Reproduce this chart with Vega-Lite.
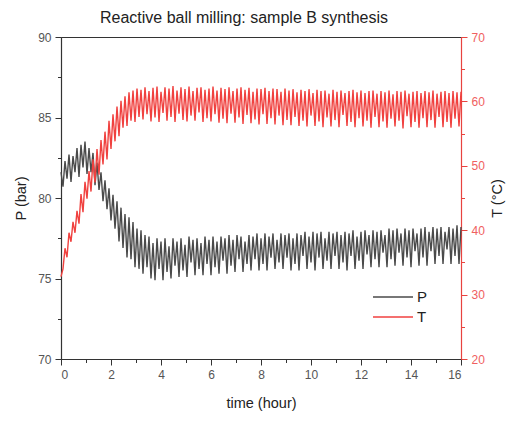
{
"$schema": "https://vega.github.io/schema/vega-lite/v6.json",
"width": 400, "height": 322,
"autosize": {"type": "none"},
"padding": {"left": 61, "top": 37, "right": 48, "bottom": 62},
"title": {"text": "Reactive ball milling: sample B synthesis", "fontSize": 16, "fontWeight": "normal", "color": "#222", "font": "Liberation Sans", "offset": 5, "dx": -17},
"config": {"view": {"stroke": "#333", "strokeWidth": 1}, "font": "Liberation Sans",
  "axis": {"grid": false, "labelFont": "Liberation Sans", "titleFont": "Liberation Sans", "labelFontSize": 12, "titleFontSize": 14.5, "titleFontWeight": "normal", "titleColor": "#222", "labelColor": "#555", "domainColor": "#333", "tickColor": "#333", "domainWidth": 1.2, "tickWidth": 1}},
"data": {"values": [
{"t":0,"P":81.6,"T":32.8},{"t":0.08,"P":80.7,"T":34.0},{"t":0.16,"P":82.3,"T":37.2},{"t":0.24,"P":81.2,"T":35.8},{"t":0.32,"P":82.7,"T":39.6},{"t":0.4,"P":81.0,"T":38.2},{"t":0.48,"P":82.6,"T":41.3},{"t":0.56,"P":81.6,"T":39.6},{"t":0.64,"P":83.1,"T":43.0},{"t":0.72,"P":81.3,"T":41.0},
{"t":0.8,"P":83.3,"T":45.6},{"t":0.88,"P":81.9,"T":42.8},{"t":0.96,"P":83.5,"T":47.5},{"t":1.04,"P":81.5,"T":44.9},{"t":1.12,"P":83.1,"T":49.2},{"t":1.2,"P":81.6,"T":46.0},{"t":1.28,"P":82.8,"T":51.0},{"t":1.36,"P":80.8,"T":47.4},{"t":1.44,"P":82.2,"T":52.6},{"t":1.52,"P":80.5,"T":48.6},
{"t":1.6,"P":81.6,"T":54.0},{"t":1.68,"P":79.8,"T":50.2},{"t":1.76,"P":81.1,"T":55.3},{"t":1.84,"P":79.3,"T":51.0},{"t":1.92,"P":80.6,"T":57.0},{"t":2,"P":78.6,"T":52.6},{"t":2.08,"P":80.2,"T":58.0},{"t":2.16,"P":78.1,"T":53.8},{"t":2.24,"P":79.8,"T":59.2},{"t":2.32,"P":77.3,"T":54.6},
{"t":2.4,"P":79.4,"T":60.1},{"t":2.48,"P":76.9,"T":55.9},{"t":2.56,"P":79.0,"T":60.8},{"t":2.64,"P":76.3,"T":56.2},{"t":2.72,"P":78.8,"T":61.4},{"t":2.8,"P":76.2,"T":57.0},{"t":2.88,"P":78.5,"T":61.7},{"t":2.96,"P":75.7,"T":56.8},{"t":3.04,"P":78.1,"T":62.0},{"t":3.12,"P":75.6,"T":57.6},
{"t":3.2,"P":78.0,"T":61.8},{"t":3.28,"P":75.3,"T":57.2},{"t":3.36,"P":77.7,"T":62.2},{"t":3.44,"P":75.7,"T":58.0},{"t":3.52,"P":77.6,"T":61.6},{"t":3.6,"P":75.0,"T":56.9},{"t":3.68,"P":77.2,"T":62.1},{"t":3.76,"P":74.9,"T":57.5},{"t":3.84,"P":77.5,"T":62.3},{"t":3.92,"P":75.6,"T":56.8},
{"t":4,"P":77.3,"T":61.5},{"t":4.08,"P":74.9,"T":58.2},{"t":4.16,"P":77.5,"T":62.2},{"t":4.24,"P":75.4,"T":57.0},{"t":4.32,"P":77.0,"T":62.0},{"t":4.4,"P":75.0,"T":57.6},{"t":4.48,"P":77.5,"T":62.4},{"t":4.56,"P":75.8,"T":56.8},{"t":4.64,"P":77.3,"T":61.7},{"t":4.72,"P":75.1,"T":58.1},
{"t":4.8,"P":77.5,"T":62.2},{"t":4.88,"P":75.5,"T":57.1},{"t":4.96,"P":77.1,"T":61.9},{"t":5.04,"P":75.1,"T":56.9},{"t":5.12,"P":77.6,"T":62.3},{"t":5.2,"P":76.0,"T":57.8},{"t":5.28,"P":77.4,"T":61.6},{"t":5.36,"P":75.2,"T":57.0},{"t":5.44,"P":77.5,"T":62.1},{"t":5.52,"P":75.6,"T":58.3},
{"t":5.6,"P":77.2,"T":62.2},{"t":5.68,"P":75.2,"T":56.8},{"t":5.76,"P":77.6,"T":61.8},{"t":5.84,"P":75.9,"T":57.4},{"t":5.92,"P":77.4,"T":62.0},{"t":6,"P":75.2,"T":56.9},{"t":6.08,"P":77.6,"T":62.3},{"t":6.16,"P":75.7,"T":58.0},{"t":6.24,"P":77.3,"T":61.7},{"t":6.32,"P":75.3,"T":56.7},
{"t":6.4,"P":77.6,"T":62.1},{"t":6.48,"P":76.1,"T":57.3},{"t":6.56,"P":77.5,"T":61.9},{"t":6.64,"P":75.3,"T":56.6},{"t":6.72,"P":77.7,"T":62.2},{"t":6.8,"P":75.8,"T":58.1},{"t":6.88,"P":77.4,"T":61.6},{"t":6.96,"P":75.4,"T":56.7},{"t":7.04,"P":77.7,"T":62.0},{"t":7.12,"P":76.2,"T":57.5},
{"t":7.2,"P":77.6,"T":62.2},{"t":7.28,"P":75.4,"T":56.5},{"t":7.36,"P":77.3,"T":61.8},{"t":7.44,"P":75.9,"T":57.9},{"t":7.52,"P":77.7,"T":62.1},{"t":7.6,"P":75.5,"T":56.6},{"t":7.68,"P":77.6,"T":61.5},{"t":7.76,"P":76.2,"T":57.2},{"t":7.84,"P":77.8,"T":62.0},{"t":7.92,"P":75.5,"T":56.4},
{"t":8,"P":77.5,"T":61.9},{"t":8.08,"P":75.9,"T":58.0},{"t":8.16,"P":77.8,"T":62.1},{"t":8.24,"P":75.5,"T":56.5},{"t":8.32,"P":77.6,"T":61.6},{"t":8.4,"P":76.3,"T":57.4},{"t":8.48,"P":77.8,"T":62.0},{"t":8.56,"P":75.6,"T":56.4},{"t":8.64,"P":77.4,"T":61.9},{"t":8.72,"P":76.0,"T":57.8},
{"t":8.8,"P":77.8,"T":61.5},{"t":8.88,"P":75.6,"T":56.3},{"t":8.96,"P":77.7,"T":62.0},{"t":9.04,"P":76.3,"T":57.1},{"t":9.12,"P":77.8,"T":61.7},{"t":9.2,"P":75.5,"T":56.3},{"t":9.28,"P":77.5,"T":61.9},{"t":9.36,"P":75.9,"T":57.6},{"t":9.44,"P":77.8,"T":61.4},{"t":9.52,"P":75.5,"T":56.2},
{"t":9.6,"P":77.7,"T":61.8},{"t":9.68,"P":76.4,"T":57.0},{"t":9.76,"P":77.9,"T":61.6},{"t":9.84,"P":75.6,"T":56.1},{"t":9.92,"P":77.6,"T":61.9},{"t":10,"P":76.0,"T":57.8},{"t":10.08,"P":77.9,"T":61.3},{"t":10.16,"P":75.5,"T":56.2},{"t":10.24,"P":77.8,"T":61.8},{"t":10.32,"P":76.3,"T":56.9},
{"t":10.4,"P":77.9,"T":61.6},{"t":10.48,"P":75.6,"T":56.0},{"t":10.56,"P":77.5,"T":61.7},{"t":10.64,"P":76.1,"T":57.5},{"t":10.72,"P":77.9,"T":61.2},{"t":10.8,"P":75.6,"T":56.1},{"t":10.88,"P":77.8,"T":61.8},{"t":10.96,"P":76.4,"T":57.1},{"t":11.04,"P":77.9,"T":61.5},{"t":11.12,"P":75.6,"T":56.0},
{"t":11.2,"P":77.7,"T":61.7},{"t":11.28,"P":76.0,"T":57.9},{"t":11.36,"P":77.9,"T":61.3},{"t":11.44,"P":75.5,"T":56.2},{"t":11.52,"P":77.8,"T":61.6},{"t":11.6,"P":76.4,"T":56.8},{"t":11.68,"P":78.0,"T":61.8},{"t":11.76,"P":75.6,"T":56.0},{"t":11.84,"P":77.6,"T":61.4},{"t":11.92,"P":76.1,"T":57.4},
{"t":12,"P":77.9,"T":61.7},{"t":12.08,"P":75.6,"T":56.1},{"t":12.16,"P":78.0,"T":61.3},{"t":12.24,"P":76.5,"T":57.0},{"t":12.32,"P":77.7,"T":61.6},{"t":12.4,"P":75.7,"T":55.9},{"t":12.48,"P":78.0,"T":61.7},{"t":12.56,"P":76.2,"T":57.6},{"t":12.64,"P":77.9,"T":61.2},{"t":12.72,"P":75.7,"T":56.0},
{"t":12.8,"P":78.0,"T":61.6},{"t":12.88,"P":76.6,"T":56.9},{"t":12.96,"P":77.7,"T":61.4},{"t":13.04,"P":75.7,"T":55.9},{"t":13.12,"P":78.1,"T":61.7},{"t":13.2,"P":76.2,"T":57.3},{"t":13.28,"P":78.0,"T":61.1},{"t":13.36,"P":75.8,"T":56.1},{"t":13.44,"P":78.1,"T":61.6},{"t":13.52,"P":76.6,"T":57.0},
{"t":13.6,"P":77.8,"T":61.5},{"t":13.68,"P":75.8,"T":55.8},{"t":13.76,"P":78.1,"T":61.7},{"t":13.84,"P":76.3,"T":57.7},{"t":13.92,"P":78.0,"T":61.2},{"t":14,"P":75.7,"T":56.0},{"t":14.08,"P":78.1,"T":61.5},{"t":14.16,"P":76.7,"T":56.8},{"t":14.24,"P":77.8,"T":61.6},{"t":14.32,"P":75.8,"T":55.9},
{"t":14.4,"P":78.1,"T":61.3},{"t":14.48,"P":76.3,"T":57.4},{"t":14.56,"P":78.2,"T":61.6},{"t":14.64,"P":75.8,"T":56.0},{"t":14.72,"P":77.9,"T":61.4},{"t":14.8,"P":76.7,"T":57.1},{"t":14.88,"P":78.2,"T":61.7},{"t":14.96,"P":75.9,"T":55.9},{"t":15.04,"P":78.1,"T":61.2},{"t":15.12,"P":76.4,"T":57.6},
{"t":15.2,"P":78.2,"T":61.5},{"t":15.28,"P":75.9,"T":56.0},{"t":15.36,"P":77.9,"T":61.6},{"t":15.44,"P":76.8,"T":56.8},{"t":15.52,"P":78.2,"T":61.3},{"t":15.6,"P":75.9,"T":55.9},{"t":15.68,"P":78.1,"T":61.6},{"t":15.76,"P":76.4,"T":57.3},{"t":15.84,"P":78.3,"T":61.4},{"t":15.92,"P":75.9,"T":56.1},
{"t":16,"P":78.2,"T":61.5}
]},
"layer": [
 {"mark": {"type": "line", "strokeWidth": 1.4},
  "encoding": {
   "x": {"field": "t", "type": "quantitative", "scale": {"domain": [0, 16], "nice": false, "zero": false},
     "axis": {"orient": "bottom", "values": [0,2,4,6,8,10,12,14,16], "tickSize": 6, "labelPadding": 4, "title": "time (hour)", "titlePadding": 16}},
   "y": {"field": "P", "type": "quantitative", "scale": {"domain": [70, 90], "nice": false, "zero": false},
     "axis": {"orient": "left", "values": [70,75,80,85,90], "tickSize": 6, "labelPadding": 4, "title": "P (bar)", "titlePadding": 9}},
   "color": {"datum": "P", "type": "nominal", "scale": {"domain": ["P", "T"], "range": ["#4a4a4a", "#f0413f"]},
     "legend": {"title": null, "orient": "none", "legendX": 311, "legendY": 250, "symbolType": "stroke", "symbolSize": 1600, "symbolStrokeWidth": 1.5, "clipHeight": 20, "labelFontSize": 15, "labelColor": "#222", "labelFont": "Liberation Sans", "rowPadding": 0, "labelOffset": 3}}
  }},
 {"mark": {"type": "line", "strokeWidth": 1.4},
  "encoding": {
   "x": {"field": "t", "type": "quantitative", "scale": {"domain": [0, 16], "nice": false, "zero": false}, "axis": null},
   "y": {"field": "T", "type": "quantitative", "scale": {"domain": [20, 70], "nice": false, "zero": false},
     "axis": {"orient": "right", "values": [20,30,40,50,60,70], "tickSize": 6, "labelPadding": 4, "title": "T (°C)", "titleAngle": -90, "titlePadding": 20, "domainColor": "#e8433f", "tickColor": "#e8433f", "labelColor": "#f06060"}},
   "color": {"datum": "T", "type": "nominal"}
  }},
 {"mark": {"type": "line", "opacity": 0},
  "encoding": {
   "x": {"field": "t", "type": "quantitative", "scale": {"domain": [0, 16], "nice": false, "zero": false},
     "axis": {"orient": "bottom", "values": [1,3,5,7,9,11,13,15], "tickSize": 3.5, "labels": false, "domain": false, "title": null}},
   "y": {"field": "P", "type": "quantitative", "scale": {"domain": [70, 90], "nice": false, "zero": false},
     "axis": {"orient": "left", "values": [72.5,77.5,82.5,87.5], "tickSize": 3.5, "labels": false, "domain": false, "title": null}}
  }},
 {"mark": {"type": "line", "opacity": 0},
  "encoding": {
   "x": {"field": "t", "type": "quantitative", "scale": {"domain": [0, 16], "nice": false, "zero": false}, "axis": null},
   "y": {"field": "T", "type": "quantitative", "scale": {"domain": [20, 70], "nice": false, "zero": false},
     "axis": {"orient": "right", "values": [25,35,45,55,65], "tickSize": 3.5, "labels": false, "domain": false, "title": null, "tickColor": "#e8433f"}}
  }}
],
"resolve": {"scale": {"x": "independent", "y": "independent"}, "axis": {"x": "independent", "y": "independent"}}
}
